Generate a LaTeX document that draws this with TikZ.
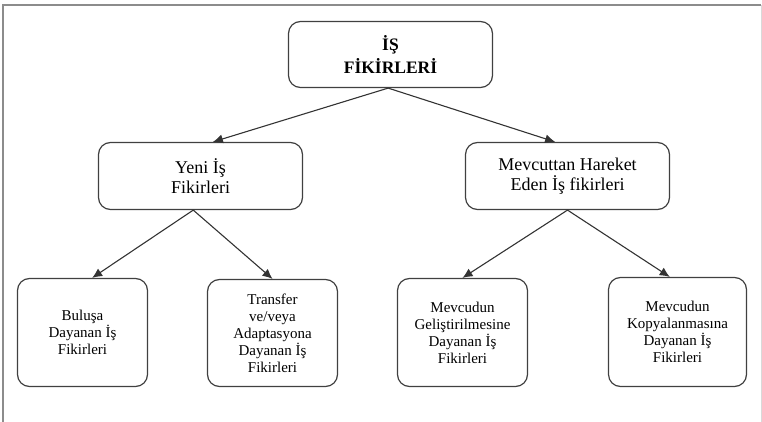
\documentclass[tikz,border=0pt]{standalone}
\usepackage{fontspec}
\setmainfont{Liberation Serif}
\usetikzlibrary{arrows.meta}
\begin{document}
\begin{tikzpicture}[x=1pt,y=-1pt,
    kutu/.style={draw=black!75,line width=1.2pt,rounded corners=12pt,inner sep=0pt,align=center},
    ok/.style={draw=black!80,line width=1.1pt,-{Latex[length=10pt,width=9pt]}}]
    \useasboundingbox (0,0) rectangle (762,422);
    % cerceve
    \draw [black!45,line width=2pt] (3,422) -- (3,5) -- (761,5);
    \draw [black!15,line width=1pt] (761,5) -- (761,422);
    % kutular
    \node [kutu,minimum width=204pt,minimum height=66pt,font=\fontsize{17.5}{23}\selectfont\bfseries] (is) at (390.5,54.5)
        {İŞ\\FİKİRLERİ};
    \node [kutu,minimum width=204pt,minimum height=67pt,font=\fontsize{18}{20}\selectfont] (yeni) at (200.5,176)
        {Yeni İş\\Fikirleri};
    \node [kutu,minimum width=204pt,minimum height=67pt,font=\fontsize{18}{20}\selectfont] (mevcut) at (567.5,176)
        {Mevcuttan Hareket\\Eden İş fikirleri};
    \node [kutu,minimum width=130pt,minimum height=108pt,font=\fontsize{15}{17}\selectfont] (bulus) at (82.5,332.5)
        {Buluşa\\Dayanan İş\\Fikirleri};
    \node [kutu,minimum width=130pt,minimum height=107pt,font=\fontsize{15}{17}\selectfont] (transfer) at (272.5,333)
        {Transfer\\ve/veya\\Adaptasyona\\Dayanan İş\\Fikirleri};
    \node [kutu,minimum width=130pt,minimum height=108pt,font=\fontsize{15}{17}\selectfont] (gelis) at (462.5,332.5)
        {Mevcudun\\Geliştirilmesine\\Dayanan İş\\Fikirleri};
    \node [kutu,minimum width=138pt,minimum height=109pt,font=\fontsize{15}{17}\selectfont] (kopya) at (677.5,332)
        {Mevcudun\\Kopyalanmasına\\Dayanan İş\\Fikirleri};
    % oklar
    \draw [ok] (is.266) -- (yeni.70);
    \draw [ok] (is.266) -- (mevcut.110);
    \draw [ok] (yeni.258) -- (bulus.80);
    \draw [ok] (yeni.258) -- (transfer.north);
    \draw [ok] (mevcut.south) -- (gelis.north);
    \draw [ok] (mevcut.south) -- (kopya.98);
\end{tikzpicture}
\end{document}
